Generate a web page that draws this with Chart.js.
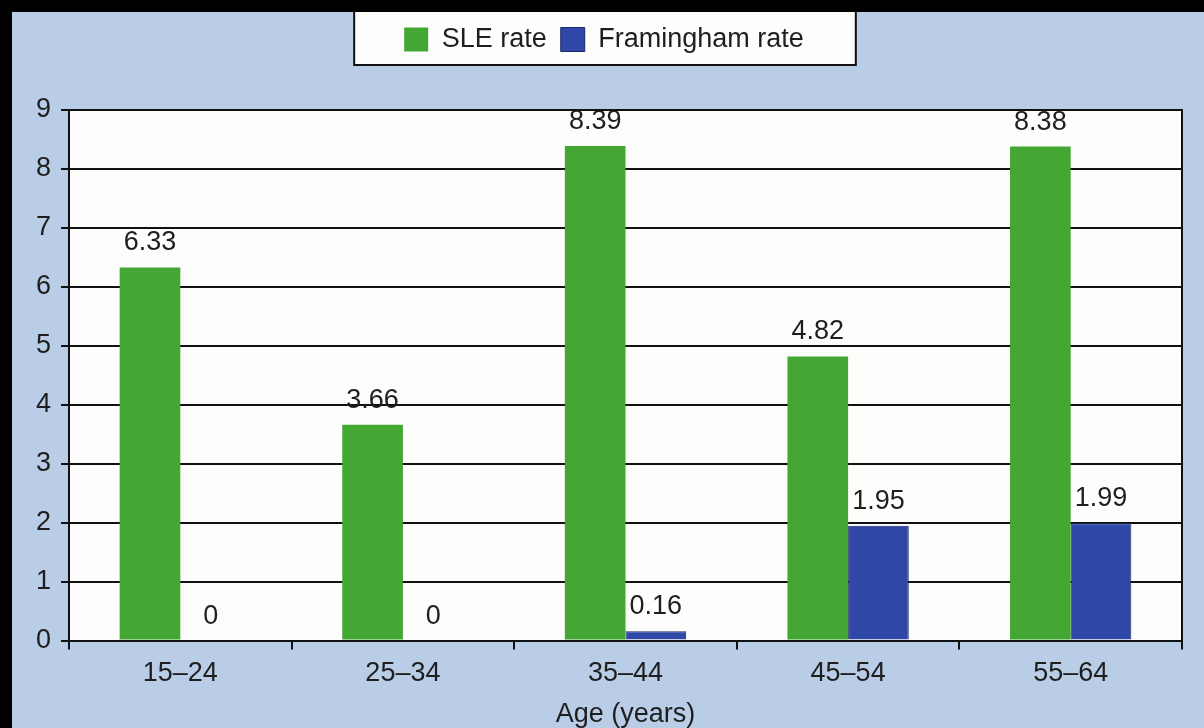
<!DOCTYPE html>
<html>
<head>
<meta charset="utf-8">
<script src="https://cdn.jsdelivr.net/npm/chart.js@4.4.1/dist/chart.umd.min.js"></script>
<style>
html, body { margin: 0; padding: 0; background: #000; }
</style>
</head>
<body>
<canvas id="chart" width="1204" height="728"></canvas>
<script>
const ageGroups = ['15\u201324', '25\u201334', '35\u201344', '45\u201354', '55\u201364'];
const sleRate = [6.33, 3.66, 8.39, 4.82, 8.38];
const framinghamRate = [0, 0, 0.16, 1.95, 1.99];
const seriesNames = ['SLE rate', 'Framingham rate'];
const axisTitle = 'Age (years)';

const FONT = "'Liberation Sans', Arial, sans-serif";
const INK = '#1e1e1e';

// leave room between the legend and the plot
const legendGap = {
    id: 'legendGap',
    beforeInit(chart) {
        const fit = chart.legend.fit;
        chart.legend.fit = function () {
            fit.call(this);
            this.height += 47;
        };
    }
};

// slide frame, light blue panel, white plot and the legend box
const backdrop = {
    id: 'backdrop',
    beforeDraw(chart) {
        const { ctx, chartArea: a, legend } = chart;
        ctx.save();
        ctx.fillStyle = '#000';
        ctx.fillRect(0, 0, chart.width, chart.height);
        ctx.fillStyle = '#b9cde7';
        ctx.fillRect(12, 12, chart.width - 12, chart.height - 12);
        ctx.fillStyle = '#fdfdfb';
        ctx.fillRect(a.left, a.top, a.right - a.left, a.bottom - a.top);

        const boxes = legend.legendHitBoxes;
        const l = Math.min(...boxes.map(b => b.left)) - 50;
        const r = Math.max(...boxes.map(b => b.left + b.width)) + 52;
        const b = Math.max(...boxes.map(b => b.top + b.height)) + 12;
        ctx.fillStyle = '#fdfdfb';
        ctx.fillRect(l, 12, r - l, b - 12);
        ctx.strokeStyle = '#111';
        ctx.lineWidth = 2;
        ctx.beginPath();
        ctx.moveTo(l, 12); ctx.lineTo(l, b); ctx.lineTo(r, b); ctx.lineTo(r, 12);
        ctx.stroke();
        ctx.restore();
    },
    afterDraw(chart) {
        const { ctx, chartArea: a } = chart;
        ctx.save();
        ctx.strokeStyle = '#111';
        ctx.lineWidth = 2;
        ctx.beginPath();
        ctx.moveTo(a.left, a.top); ctx.lineTo(a.right, a.top); ctx.lineTo(a.right, a.bottom);
        ctx.stroke();
        ctx.restore();
    }
};

// value printed above each bar
const valueLabels = {
    id: 'valueLabels',
    afterDatasetsDraw(chart) {
        const { ctx } = chart;
        ctx.save();
        ctx.font = '27px ' + FONT;
        ctx.fillStyle = INK;
        ctx.textAlign = 'center';
        ctx.textBaseline = 'bottom';
        chart.data.datasets.forEach((ds, i) => {
            chart.getDatasetMeta(i).data.forEach((bar, j) => {
                ctx.fillText(String(ds.data[j]), bar.x, bar.y - 11);
            });
        });
        ctx.restore();
    }
};

new Chart(document.getElementById('chart'), {
    type: 'bar',
    data: {
        labels: ageGroups,
        datasets: [
            {
                label: seriesNames[0],
                data: sleRate,
                backgroundColor: '#44a633',
                borderWidth: 0
            },
            {
                label: seriesNames[1],
                data: framinghamRate,
                backgroundColor: '#2f47a6',
                borderColor: '#1a2766',
                borderWidth: 1
            }
        ]
    },
    options: {
        responsive: false,
        animation: false,
        devicePixelRatio: 1,
        categoryPercentage: 0.545,
        barPercentage: 1,
        layout: { padding: { top: 12, left: 26, right: 22, bottom: 0 } },
        plugins: {
            tooltip: { enabled: false },
            legend: {
                position: 'top',
                labels: {
                    boxWidth: 24,
                    boxHeight: 24,
                    padding: 14,
                    color: INK,
                    font: { family: FONT, size: 27 }
                }
            }
        },
        scales: {
            x: {
                grid: { drawOnChartArea: false, drawTicks: true, tickLength: 9, color: '#111', lineWidth: 2 },
                border: { color: '#111', width: 2 },
                ticks: { color: INK, font: { family: FONT, size: 27 }, padding: 8 },
                title: { display: true, text: axisTitle, color: INK, font: { family: FONT, size: 27, lineHeight: 1 }, padding: { top: 3, bottom: 0 } }
            },
            y: {
                min: 0,
                max: 9,
                grid: { color: '#111', lineWidth: 2, tickLength: 8 },
                border: { color: '#111', width: 2 },
                ticks: { stepSize: 1, color: INK, font: { family: FONT, size: 27 }, padding: 10 }
            }
        }
    },
    plugins: [legendGap, backdrop, valueLabels]
});
</script>
</body>
</html>
